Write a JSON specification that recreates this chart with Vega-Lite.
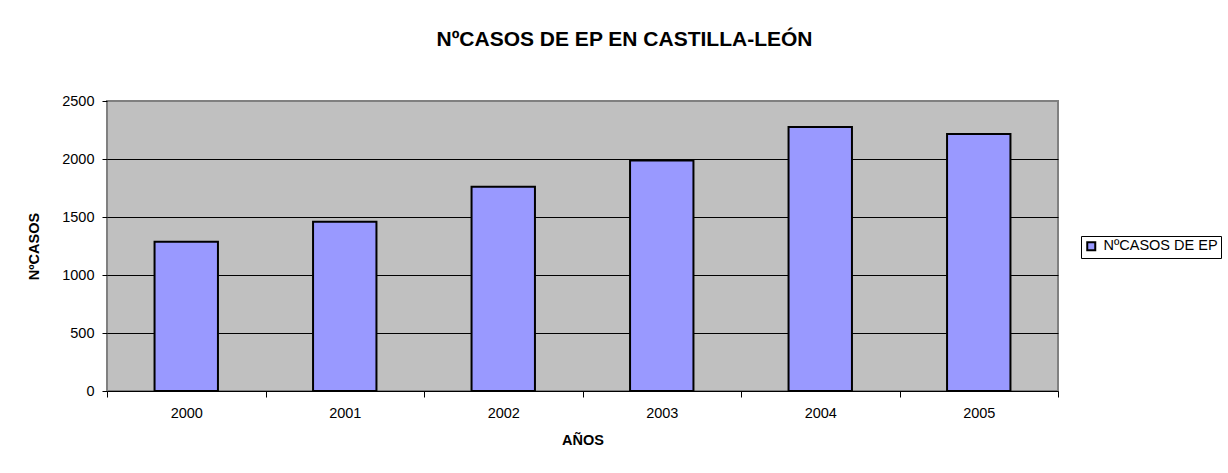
{
  "$schema": "https://vega.github.io/schema/vega-lite/v6.json",
  "autosize": {"type": "none"},
  "padding": {"left": 107, "top": 101, "right": 170, "bottom": 82},
  "width": 951,
  "height": 290,
  "background": "white",
  "config": {
    "font": "Liberation Sans",
    "view": {"fill": "#C0C0C0", "stroke": "#808080", "strokeWidth": 2}
  },
  "title": {
    "text": "NºCASOS DE EP EN CASTILLA-LEÓN",
    "font": "Liberation Sans",
    "fontSize": 21,
    "fontWeight": "bold",
    "color": "black",
    "anchor": "middle",
    "frame": "group",
    "dx": 42,
    "offset": 43
  },
  "data": {
    "values": [
      {"year": "2000", "casos": 1287, "serie": "NºCASOS DE EP"},
      {"year": "2001", "casos": 1460, "serie": "NºCASOS DE EP"},
      {"year": "2002", "casos": 1761, "serie": "NºCASOS DE EP"},
      {"year": "2003", "casos": 1986, "serie": "NºCASOS DE EP"},
      {"year": "2004", "casos": 2276, "serie": "NºCASOS DE EP"},
      {"year": "2005", "casos": 2216, "serie": "NºCASOS DE EP"}
    ]
  },
  "mark": {"type": "bar", "stroke": "black", "strokeWidth": 2, "opacity": 1, "width": {"band": 0.4}},
  "encoding": {
    "x": {
      "field": "year",
      "type": "nominal",
      "sort": null,
      "scale": {"paddingInner": 0, "paddingOuter": 0},
      "axis": {
        "title": "AÑOS",
        "titleFont": "Liberation Sans",
        "titleFontSize": 14.5,
        "titleFontWeight": "bold",
        "titleColor": "black",
        "titlePadding": 14,
        "labelAngle": 0,
        "labelFontSize": 14.5,
        "labelColor": "black",
        "labelPadding": 9,
        "tickBand": "extent",
        "tickColor": "black",
        "tickSize": 6,
        "domainColor": "black",
        "domainWidth": 1,
        "grid": false
      }
    },
    "y": {
      "field": "casos",
      "type": "quantitative",
      "scale": {"domain": [0, 2500], "nice": false},
      "axis": {
        "title": "NºCASOS",
        "titleFont": "Liberation Sans",
        "titleFontSize": 14.5,
        "titleFontWeight": "bold",
        "titleColor": "black",
        "titlePadding": 20,
        "values": [0, 500, 1000, 1500, 2000, 2500],
        "format": "d",
        "labelFontSize": 14.5,
        "labelColor": "black",
        "labelPadding": 8,
        "tickColor": "black",
        "tickSize": 5,
        "domain": false,
        "grid": true,
        "gridColor": {"condition": {"test": "datum.value === 2500 || datum.value === 0", "value": "#808080"}, "value": "black"},
        "gridWidth": 1,
        "gridOpacity": 1
      }
    },
    "color": {
      "field": "serie",
      "type": "nominal",
      "scale": {"range": ["#9999FF"]},
      "legend": {
        "title": null,
        "orient": "none",
        "legendX": 974,
        "legendY": 135,
        "symbolType": "square",
        "symbolSize": 64,
        "symbolStrokeColor": "black",
        "symbolStrokeWidth": 2,
        "symbolOpacity": 1,
        "labelFontSize": 14.5,
        "labelColor": "black",
        "labelFont": "Liberation Sans",
        "strokeColor": "black",
        "fillColor": "white",
        "padding": 3,
        "labelOffset": 5
      }
    }
  }
}
